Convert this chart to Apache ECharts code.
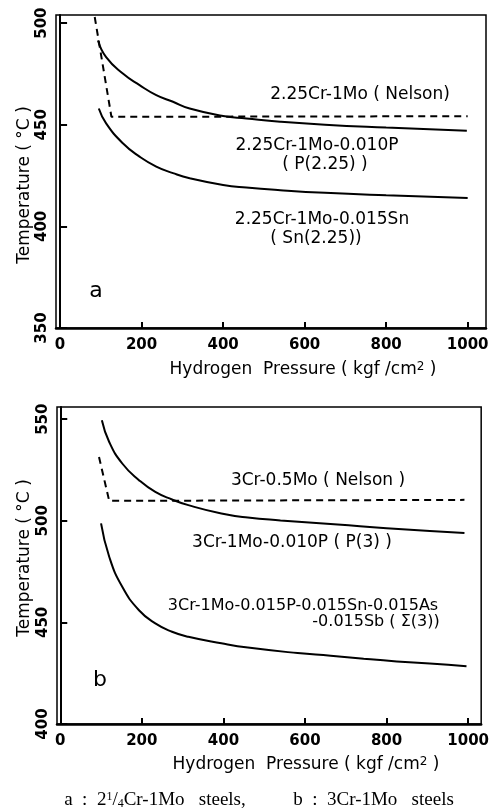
<!DOCTYPE html>
<html>
<head>
<meta charset="utf-8">
<script src="https://cdn.jsdelivr.net/npm/echarts@6/dist/echarts.min.js"></script>
<style>
html,body{margin:0;padding:0;background:#fff;}
#c{width:492px;height:812px;}
</style>
</head>
<body>
<div id="c"></div>
<script>
// ---- data ----
const pressureTicks = [0, 200, 400, 600, 800, 1000];
const tempTicksA = [350, 400, 450, 500];
const tempTicksB = [400, 450, 500, 550];

// panel a : 2 1/4Cr-1Mo steels
const nelsonA_P = [85, 126, 1000];
const nelsonA_T = [503, 453.9, 454.2];
const p225_P = [93, 113, 154, 195, 236, 277, 318, 400, 457, 540, 650, 800, 998];
const p225_T = [491.5, 483.3, 475.2, 469.5, 464.6, 461.3, 458, 454.3, 453.1, 451.5, 450, 448.6, 447];
const sn225_P = [95, 113, 154, 195, 236, 277, 318, 400, 457, 540, 650, 800, 1000];
const sn225_T = [458, 450.7, 440.9, 434.3, 429.4, 426.2, 423.7, 420.4, 419.1, 417.8, 416.5, 415.3, 414];

// panel b : 3Cr-1Mo steels
const nelsonB_P = [95, 120, 991];
const nelsonB_T = [531.4, 509.8, 510.3];
const p3_P = [102, 120, 152, 193, 233, 274, 314, 395, 460, 540, 680, 800, 991];
const p3_T = [549.5, 538.8, 528.2, 520, 514.2, 510.5, 507.7, 503.6, 501.6, 500.2, 498.2, 496.3, 494];
const sigma3_P = [100, 120, 152, 193, 233, 274, 314, 395, 460, 582, 663, 744, 825, 906, 996];
const sigma3_T = [498.7, 482.3, 467.5, 456, 449.5, 445.4, 442.9, 439.7, 437.6, 434.9, 433.6, 432.1, 430.8, 429.8, 428.4];

const xName = 'Hydrogen  Pressure ( kgf /cm{sup|2} )';
const yName = 'Temperature ( °C )';
const caption = 'a  :  2{sup|1}/{sub|4}Cr-1Mo   steels,          b  :  3Cr-1Mo   steels';

// ---- helpers ----
const zip = (xs, ys) => xs.map((x, i) => [x, ys[i]]);
const SANS = "'DejaVu Sans', sans-serif";

function xAx(idx, min, max) {
  return {
    type: 'value', gridIndex: idx, min: min, max: max,
    axisLine: { show: true, lineStyle: { color: '#000', width: 2.5 } },
    axisTick: { show: true, inside: true, length: 6, customValues: pressureTicks, lineStyle: { color: '#000', width: 2 } },
    axisLabel: { customValues: pressureTicks, formatter: v => String(v), color: '#000', fontFamily: SANS, fontSize: 15, fontWeight: 'bold', margin: 10 },
    splitLine: { show: false }
  };
}
function yAx(idx, min, max, ticks) {
  return {
    type: 'value', gridIndex: idx, min: min, max: max,
    axisLine: { show: true, lineStyle: { color: '#000', width: 2 } },
    axisTick: { show: true, inside: true, length: 7, customValues: ticks, lineStyle: { color: '#000', width: 2 } },
    axisLabel: { customValues: ticks, formatter: v => String(v), rotate: 90, color: '#000', fontFamily: SANS, fontSize: 15, fontWeight: 'bold', margin: 6 },
    splitLine: { show: false }
  };
}
function line(xi, data, dashed, smooth) {
  return {
    type: 'line', xAxisIndex: xi, yAxisIndex: xi, data: data,
    symbol: 'none', smooth: smooth ? 0.5 : false,
    lineStyle: { color: '#000', width: 2, type: dashed ? [7, 5] : 'solid' },
    silent: true, animation: false
  };
}
function txt(x, y, s, size, extra) {
  return Object.assign({
    type: 'text', x: x, y: y, silent: true,
    style: { text: s, fill: '#000', font: (size || 15) + 'px ' + SANS, align: 'center', verticalAlign: 'middle' }
  }, extra || {});
}

const chart = echarts.init(document.getElementById('c'), null, { renderer: 'canvas' });
const supRich = {
  sup: { fontSize: 12, fontFamily: "'DejaVu Sans', sans-serif", verticalAlign: 'top', padding: [0, 0, 6, 0] }
};

chart.setOption({
  animation: false,
  backgroundColor: '#fff',
  grid: [
    { left: 56, top: 15, width: 430, height: 313, show: true, borderColor: '#000', borderWidth: 1.5, backgroundColor: 'transparent' },
    { left: 57, top: 407, width: 428, height: 317, show: true, borderColor: '#000', borderWidth: 1.5, backgroundColor: 'transparent' }
  ],
  xAxis: [xAx(0, -10, 1045), xAx(1, -8, 1032)],
  yAxis: [yAx(0, 350, 504, tempTicksA), yAx(1, 400, 556, tempTicksB)],
  series: [
    line(0, zip(nelsonA_P, nelsonA_T), true, false),
    line(0, zip(p225_P, p225_T), false, true),
    line(0, zip(sn225_P, sn225_T), false, true),
    line(1, zip(nelsonB_P, nelsonB_T), true, false),
    line(1, zip(p3_P, p3_T), false, true),
    line(1, zip(sigma3_P, sigma3_T), false, true)
  ],
  graphic: [
    // axis names
    { type: 'text', x: 303, y: 370, silent: true,
      style: { text: xName, fill: '#000', font: '17px ' + SANS, align: 'center', verticalAlign: 'middle', rich: supRich } },
    { type: 'text', x: 306, y: 765, silent: true,
      style: { text: xName, fill: '#000', font: '17px ' + SANS, align: 'center', verticalAlign: 'middle', rich: supRich } },
    txt(25, 185, yName, 17, { rotation: Math.PI / 2 }),
    txt(25, 558, yName, 17, { rotation: Math.PI / 2 }),
    // panel a annotations
    txt(360, 95, '2.25Cr-1Mo ( Nelson)', 17),
    txt(317, 146, '2.25Cr-1Mo-0.010P', 17),
    txt(325, 165, '( P(2.25) )', 17),
    txt(322, 220, '2.25Cr-1Mo-0.015Sn', 17),
    txt(316, 239, '( Sn(2.25))', 17),
    txt(96, 291, 'a', 22),
    // panel b annotations
    txt(318, 481, '3Cr-0.5Mo ( Nelson )', 17),
    txt(292, 543, '3Cr-1Mo-0.010P ( P(3) )', 17),
    txt(303, 606, '3Cr-1Mo-0.015P-0.015Sn-0.015As', 16),
    txt(376, 622, '-0.015Sb ( Σ(3))', 16),
    txt(100, 680, 'b', 22),
    // caption
    { type: 'text', x: 259, y: 800, silent: true,
      style: { text: caption, fill: '#000', font: "19px 'Liberation Serif', serif", align: 'center', verticalAlign: 'middle',
        rich: {
          sup: { fontSize: 12, fontFamily: "'Liberation Serif', serif", verticalAlign: 'top', padding: [0, 0, 7, 0] },
          sub: { fontSize: 12, fontFamily: "'Liberation Serif', serif", verticalAlign: 'bottom', padding: [5, 0, 0, 0] }
        } } }
  ]
});
</script>
</body>
</html>
